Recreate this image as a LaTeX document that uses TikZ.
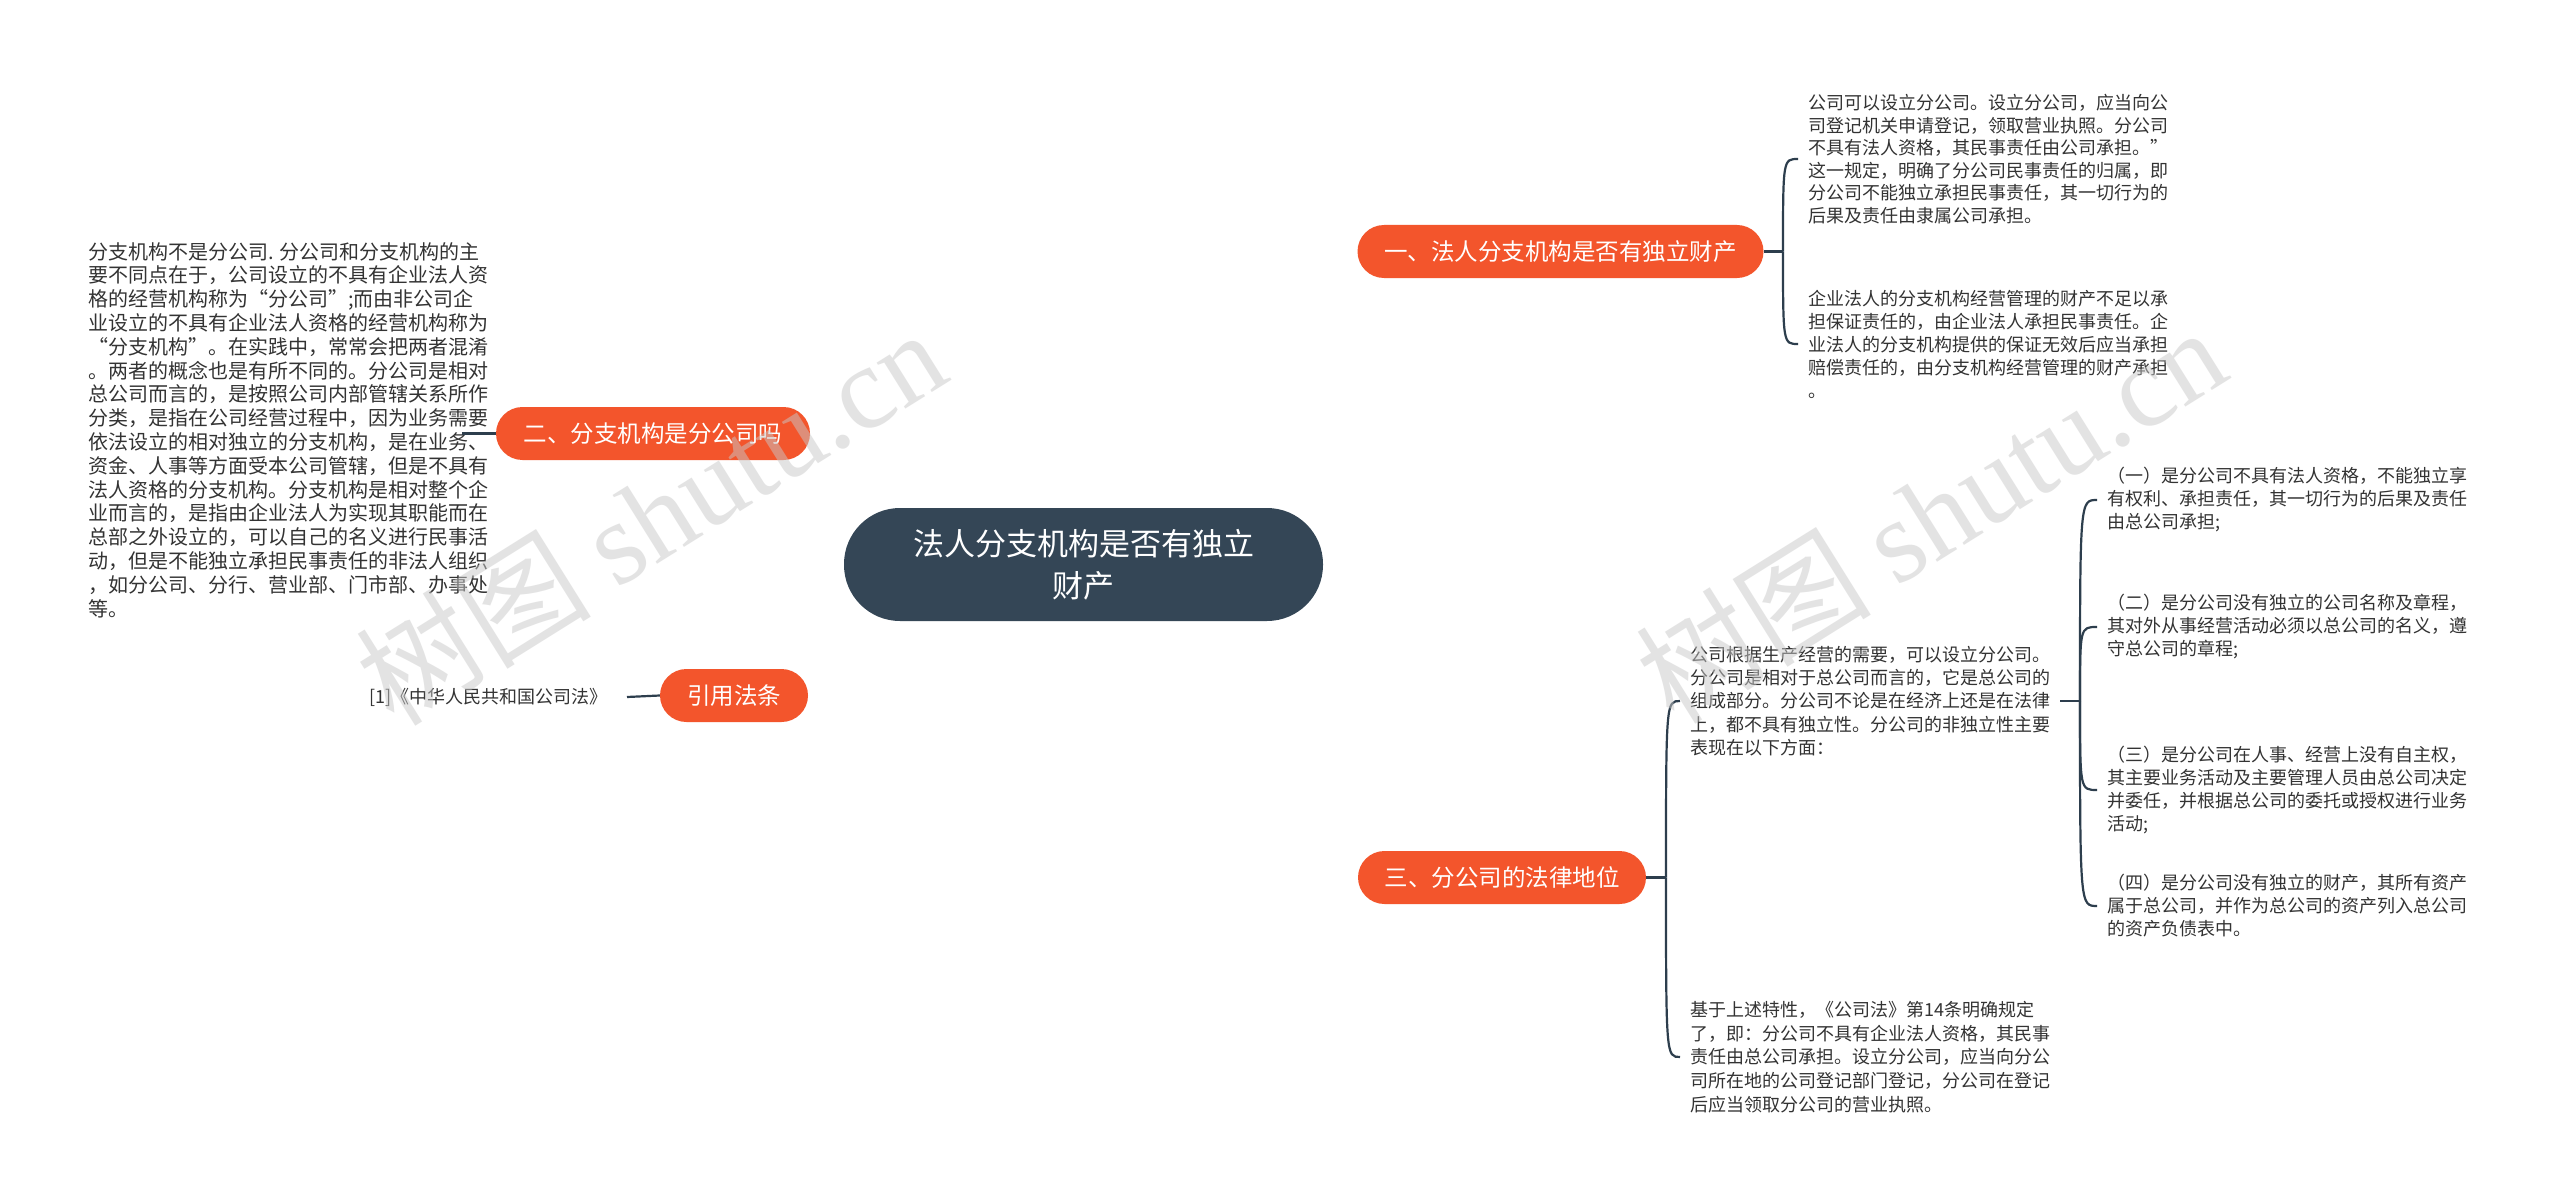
\documentclass[tikz,border=0pt]{standalone}
\usepackage{fontspec}
\setmainfont{Noto Sans CJK SC}
\newfontfamily\wmlat{Liberation Serif}
\usetikzlibrary{backgrounds}
\definecolor{linec}{HTML}{2D3E4D}
\definecolor{txtc}{HTML}{333333}
\definecolor{pillc}{HTML}{F3552C}
\definecolor{rootc}{HTML}{344656}
\definecolor{wmc}{HTML}{C8C8C8}
\begin{document}
\begin{tikzpicture}[x=1pt,y=-1pt,
  conn/.style={draw=linec,line width=2.2pt},
  leaf/.style={anchor=west,inner xsep=10pt,inner ysep=0pt,align=left,text=txtc,font=\fontsize{18}{23}\selectfont},
  pill/.style={fill=pillc,text=white,rounded corners=26.5pt,minimum height=53pt,inner sep=0pt,font=\fontsize{23.5}{28}\selectfont},
  rootbox/.style={fill=rootc,text=white,rounded corners=56pt,minimum height=113pt,minimum width=479pt,inner sep=0pt,align=center,font=\fontsize{31}{42}\selectfont},
  wm/.style={text=wmc,opacity=0.5,rotate=32,inner sep=0pt,font=\fontsize{118}{120}\selectfont}]
\useasboundingbox[fill=white] (0,0) rectangle (2560,1201);

% root and branches
\node[rootbox] (root) at (1083.5,564.5) {法人分支机构是否有独立\\财产};
\node[pill,minimum width=406pt] (b1) at (1560.5,251.5) {一、法人分支机构是否有独立财产};
\node[pill,minimum width=314pt] (b2) at (653,433.5) {二、分支机构是分公司吗};
\node[pill,minimum width=148pt] (b3) at (734,695.5) {引用法条};
\node[pill,minimum width=288pt] (b4) at (1502,877.5) {三、分公司的法律地位};

% leaves of branch 1
\node[leaf,font=\fontsize{18}{22.5}\selectfont] (l1a) at (1798,159) {公司可以设立分公司。设立分公司，应当向公\\司登记机关申请登记，领取营业执照。分公司\\不具有法人资格，其民事责任由公司承担。”\\这一规定，明确了分公司民事责任的归属，即\\分公司不能独立承担民事责任，其一切行为的\\后果及责任由隶属公司承担。};
\node[leaf] (l1b) at (1798,344) {企业法人的分支机构经营管理的财产不足以承\\担保证责任的，由企业法人承担民事责任。企\\业法人的分支机构提供的保证无效后应当承担\\赔偿责任的，由分支机构经营管理的财产承担\\。};

% leaf of branch 2
\node[leaf,font=\fontsize{20}{23.8}\selectfont] (l2) at (78,430) {分支机构不是分公司. 分公司和分支机构的主\\要不同点在于，公司设立的不具有企业法人资\\格的经营机构称为“分公司”;而由非公司企\\业设立的不具有企业法人资格的经营机构称为\\“分支机构”。在实践中，常常会把两者混淆\\。两者的概念也是有所不同的。分公司是相对\\总公司而言的，是按照公司内部管辖关系所作\\分类，是指在公司经营过程中，因为业务需要\\依法设立的相对独立的分支机构，是在业务、\\资金、人事等方面受本公司管辖，但是不具有\\法人资格的分支机构。分支机构是相对整个企\\业而言的，是指由企业法人为实现其职能而在\\总部之外设立的，可以自己的名义进行民事活\\动，但是不能独立承担民事责任的非法人组织\\，如分公司、分行、营业部、门市部、办事处\\等。};
\coordinate (l2c) at (462,433.5);

% leaf of branch 3 (references)
\node[leaf,anchor=east,inner xsep=19pt] (ref) at (627,697) {[1]《中华人民共和国公司法》};

% leaves of branch 4
\node[leaf,font=\fontsize{18}{23.25}\selectfont] (l3a) at (1680,701) {公司根据生产经营的需要，可以设立分公司。\\分公司是相对于总公司而言的，它是总公司的\\组成部分。分公司不论是在经济上还是在法律\\上，都不具有独立性。分公司的非独立性主要\\表现在以下方面：};
\node[leaf,font=\fontsize{18}{23.75}\selectfont] (l3b) at (1680,1057) {基于上述特性，《公司法》第14条明确规定\\了，即：分公司不具有企业法人资格，其民事\\责任由总公司承担。设立分公司，应当向分公\\司所在地的公司登记部门登记，分公司在登记\\后应当领取分公司的营业执照。};

% sub-leaves of l3a
\node[leaf] (r1) at (2097,500) {（一）是分公司不具有法人资格，不能独立享\\有权利、承担责任，其一切行为的后果及责任\\由总公司承担;};
\node[leaf] (r2) at (2097,627) {（二）是分公司没有独立的公司名称及章程，\\其对外从事经营活动必须以总公司的名义，遵\\守总公司的章程;};
\node[leaf] (r3) at (2097,790) {（三）是分公司在人事、经营上没有自主权，\\其主要业务活动及主要管理人员由总公司决定\\并委任，并根据总公司的委托或授权进行业务\\活动;};
\node[leaf] (r4) at (2097,906) {（四）是分公司没有独立的财产，其所有资产\\属于总公司，并作为总公司的资产列入总公司\\的资产负债表中。};

\coordinate (j1) at (1783,251.5);
\coordinate (j4) at (1666,877.5);
\coordinate (j5) at (2080,701);

\begin{scope}[on background layer]
\draw[conn] (root.center) .. controls (root.center |- b1.west) .. (b1.west);
\draw[conn] (root.center) .. controls (root.center |- b2.east) .. (b2.east);
\draw[conn] (root.center) .. controls (root.center |- b3.east) .. (b3.east);
\draw[conn] (root.center) .. controls (root.center |- b4.west) .. (b4.west);
\end{scope}

\draw[conn] (b1.east) -- (j1);
\draw[conn] (j1) .. controls (j1 |- l1a.west) .. (l1a.west);
\draw[conn] (j1) .. controls (j1 |- l1b.west) .. (l1b.west);
\draw[conn] (l2c) -- (b2.west);
\draw[conn] (ref.east) -- (b3.west);
\draw[conn] (b4.east) -- (j4);
\draw[conn] (j4) .. controls (j4 |- l3a.west) .. (l3a.west);
\draw[conn] (j4) .. controls (j4 |- l3b.west) .. (l3b.west);
\draw[conn] (l3a.east) -- (j5);
\draw[conn] (j5) .. controls (j5 |- r1.west) .. (r1.west);
\draw[conn] (j5) .. controls (j5 |- r2.west) .. (r2.west);
\draw[conn] (j5) .. controls (j5 |- r3.west) .. (r3.west);
\draw[conn] (j5) .. controls (j5 |- r4.west) .. (r4.west);

% watermarks
\node[wm] (wm1) at (650,516) {树图 {\wmlat shutu.cn}};
\node[wm] (wm2) at (1930,514) {树图 {\wmlat shutu.cn}};
\end{tikzpicture}
\end{document}
